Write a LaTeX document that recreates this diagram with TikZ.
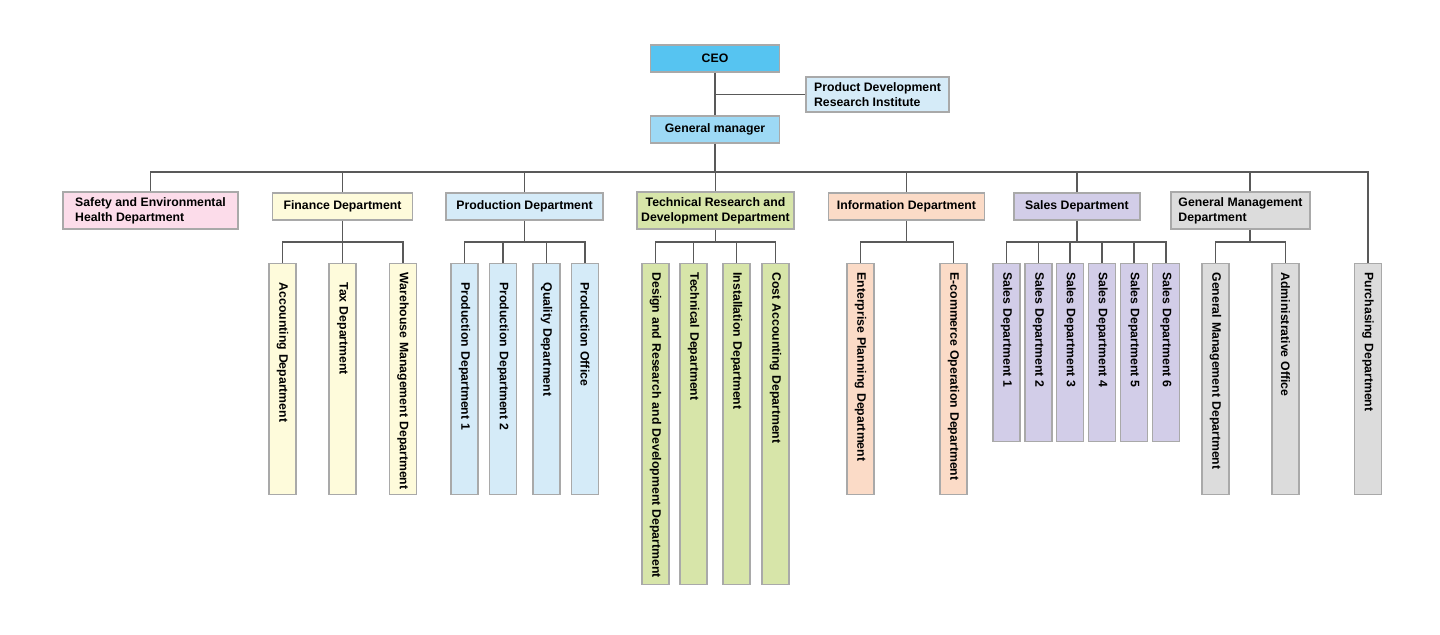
\documentclass[tikz,border=0pt]{standalone}
\usepackage{fontspec}
\setmainfont{Liberation Sans}
\definecolor{ceoblue}{HTML}{56C4F1}
\definecolor{gmblue}{HTML}{9DD9F5}
\definecolor{paleblue}{HTML}{D5EBF8}
\definecolor{palepink}{HTML}{FCDCEA}
\definecolor{paleyellow}{HTML}{FEFBDB}
\definecolor{palegreen}{HTML}{D7E5A9}
\definecolor{palepeach}{HTML}{FBDBC7}
\definecolor{palelilac}{HTML}{D2CDE8}
\definecolor{palegray}{HTML}{DCDCDC}
\definecolor{bordergray}{HTML}{A9A9A9}
\definecolor{linegray}{HTML}{595959}
\begin{document}
\begin{tikzpicture}[x=0.75pt,y=-0.75pt,
  box/.style={draw=bordergray, line width=0.8pt, inner sep=0pt,
    font=\bfseries\fontsize{9.2}{11.25}\selectfont, text=black},
  hbox/.style 2 args={box, minimum width=#1, minimum height=#2},
  vb/.style 2 args={box, rotate=-90, anchor=west, minimum height=20.25pt,
    inner ysep=0pt, inner xsep=#2, text width=#1, align=left},
  conn/.style={draw=linegray, line width=1pt}]
\useasboundingbox (0,0) rectangle (1440,635);
\fill[white] (0,0) rectangle (1440,635);
\coordinate (busy) at (0,172);
\coordinate (suby) at (0,242);
% top
\node[hbox={96.75pt}{20.25pt}, fill=ceoblue] (ceo) at (715,58.5) {CEO};
\node[hbox={96.75pt}{20.25pt}, fill=gmblue] (gm) at (715,129.5) {General manager};
\node[hbox={107.25pt}{26.25pt}, fill=paleblue, align=left] (pdri) at (877.5,94.5) {Product Development\\Research Institute};
% level 1
\node[hbox={131.25pt}{27.75pt}, fill=palepink, align=left] (safety) at (150.5,210.5) {Safety and Environmental\\Health Department};
\node[hbox={105pt}{20.25pt}, fill=paleyellow] (fin) at (342.5,206.5) {Finance Department};
\node[hbox={117.75pt}{20.25pt}, fill=paleblue] (prod) at (524.5,206.5) {Production Department};
\node[hbox={117.75pt}{27.75pt}, fill=palegreen, align=center] (tech) at (715.5,210.5) {Technical Research and\\Development Department};
\node[hbox={117pt}{20.25pt}, fill=palepeach] (info) at (906.5,206.5) {Information Department};
\node[hbox={94.5pt}{20.25pt}, fill=palelilac] (sales) at (1077,206.5) {Sales Department};
\node[hbox={104.25pt}{27.75pt}, fill=palegray, align=left] (genm) at (1240.5,210.5) {General Management\\Department};
\coordinate (genmtop) at ([xshift=7.125pt]genm.north);
\coordinate (genmbot) at ([xshift=7.125pt]genm.south);
% finance children
\node[vb={144.75pt}{14.25pt}, fill=paleyellow] (acc) at (282.5,263) {\mbox{Accounting Department}};
\node[vb={144.75pt}{14.25pt}, fill=paleyellow] (tax) at (342.5,263) {\mbox{Tax Department}};
\node[vb={159.75pt}{6.75pt}, fill=paleyellow] (wh) at (403,263) {\mbox{Warehouse Management Department}};
% production children
\node[vb={144.75pt}{14.25pt}, fill=paleblue] (p1) at (464.5,263) {\mbox{Production Department 1}};
\node[vb={144.75pt}{14.25pt}, fill=paleblue] (p2) at (503,263) {\mbox{Production Department 2}};
\node[vb={144.75pt}{14.25pt}, fill=paleblue] (qual) at (546.5,263) {\mbox{Quality Department}};
\node[vb={144.75pt}{14.25pt}, fill=paleblue] (poff) at (585,263) {\mbox{Production Office}};
% technical children
\node[vb={227.25pt}{6.75pt}, fill=palegreen] (design) at (655.5,263) {\mbox{Design and Research and Development Department}};
\node[vb={227.25pt}{6.75pt}, fill=palegreen] (techd) at (693.5,263) {\mbox{Technical Department}};
\node[vb={227.25pt}{6.75pt}, fill=palegreen] (inst) at (736.5,263) {\mbox{Installation Department}};
\node[vb={227.25pt}{6.75pt}, fill=palegreen] (cost) at (775.5,263) {\mbox{Cost Accounting Department}};
% information children
\node[vb={159.75pt}{6.75pt}, fill=palepeach] (ent) at (860.5,263) {\mbox{Enterprise Planning Department}};
\node[vb={159.75pt}{6.75pt}, fill=palepeach] (ecom) at (953.5,263) {\mbox{E-commerce Operation Department}};
% sales children
\node[vb={120pt}{6.75pt}, fill=palelilac] (s1) at (1006.5,263) {\mbox{Sales Department 1}};
\node[vb={120pt}{6.75pt}, fill=palelilac] (s2) at (1038.5,263) {\mbox{Sales Department 2}};
\node[vb={120pt}{6.75pt}, fill=palelilac] (s3) at (1070,263) {\mbox{Sales Department 3}};
\node[vb={120pt}{6.75pt}, fill=palelilac] (s4) at (1102,263) {\mbox{Sales Department 4}};
\node[vb={120pt}{6.75pt}, fill=palelilac] (s5) at (1134,263) {\mbox{Sales Department 5}};
\node[vb={120pt}{6.75pt}, fill=palelilac] (s6) at (1166,263) {\mbox{Sales Department 6}};
% general management children
\node[vb={159.75pt}{6.75pt}, fill=palegray] (gmd) at (1215.5,263) {\mbox{General Management Department}};
\node[vb={159.75pt}{6.75pt}, fill=palegray] (adm) at (1285.5,263) {\mbox{Administrative Office}};
\node[vb={159.75pt}{6.75pt}, fill=palegray] (purch) at (1368,263) {\mbox{Purchasing Department}};
% connectors top
\draw[conn] (ceo.south) -- (gm.north);
\draw[conn] (ceo.south |- pdri.west) -- (pdri.west);
\draw[conn] (gm.south) -- (gm.south |- busy);
\draw[conn] (safety.north) -- (safety.north |- busy) -- (purch.west |- busy) -- (purch.west);
\draw[conn] (fin.north) -- (fin.north |- busy);
\draw[conn] (prod.north) -- (prod.north |- busy);
\draw[conn] (tech.north) -- (tech.north |- busy);
\draw[conn] (info.north) -- (info.north |- busy);
\draw[conn] (sales.north) -- (sales.north |- busy);
\draw[conn] (genmtop) -- (genmtop |- busy);
% finance
\draw[conn] (fin.south) -- (fin.south |- suby);
\draw[conn] (acc.west) -- (acc.west |- suby) -- (wh.west |- suby) -- (wh.west);
\draw[conn] (tax.west) -- (tax.west |- suby);
% production
\draw[conn] (prod.south) -- (prod.south |- suby);
\draw[conn] (p1.west) -- (p1.west |- suby) -- (poff.west |- suby) -- (poff.west);
\draw[conn] (p2.west) -- (p2.west |- suby);
\draw[conn] (qual.west) -- (qual.west |- suby);
% technical
\draw[conn] (tech.south) -- (tech.south |- suby);
\draw[conn] (design.west) -- (design.west |- suby) -- (cost.west |- suby) -- (cost.west);
\draw[conn] (techd.west) -- (techd.west |- suby);
\draw[conn] (inst.west) -- (inst.west |- suby);
% information
\draw[conn] (info.south) -- (info.south |- suby);
\draw[conn] (ent.west) -- (ent.west |- suby) -- (ecom.west |- suby) -- (ecom.west);
% sales
\draw[conn] (sales.south) -- (sales.south |- suby);
\draw[conn] (s1.west) -- (s1.west |- suby) -- (s6.west |- suby) -- (s6.west);
\draw[conn] (s2.west) -- (s2.west |- suby);
\draw[conn] (s3.west) -- (s3.west |- suby);
\draw[conn] (s4.west) -- (s4.west |- suby);
\draw[conn] (s5.west) -- (s5.west |- suby);
% general management
\draw[conn] (genmbot) -- (genmbot |- suby);
\draw[conn] (gmd.west) -- (gmd.west |- suby) -- (adm.west |- suby) -- (adm.west);
\end{tikzpicture}
\end{document}
